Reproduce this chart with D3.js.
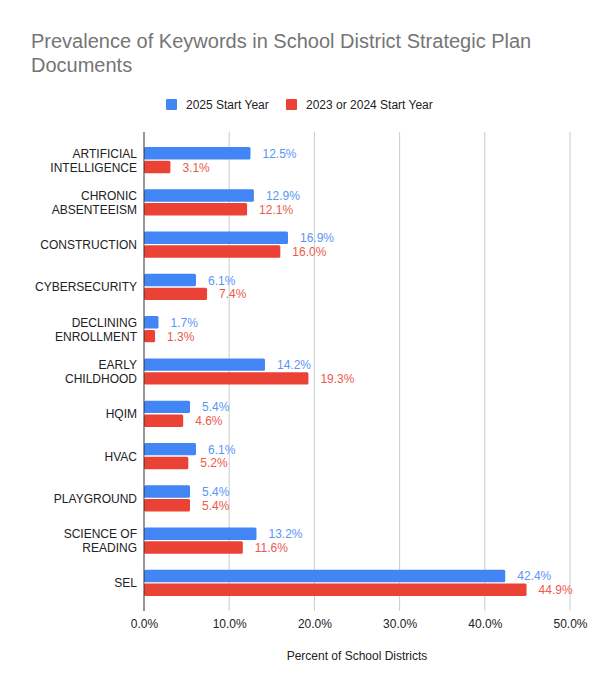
<!DOCTYPE html>
<html>
<head>
<meta charset="utf-8">
<script src="https://cdn.jsdelivr.net/npm/d3@7"></script>
<style>
  body { margin: 0; background: #fff; }
  text { font-family: "Liberation Sans", Arial, sans-serif; }
</style>
</head>
<body>
<svg id="chart" width="600" height="693"></svg>
<script>
// chart data
const categories = [
    ["ARTIFICIAL", "INTELLIGENCE"],
    ["CHRONIC", "ABSENTEEISM"],
    ["CONSTRUCTION"],
    ["CYBERSECURITY"],
    ["DECLINING", "ENROLLMENT"],
    ["EARLY", "CHILDHOOD"],
    ["HQIM"],
    ["HVAC"],
    ["PLAYGROUND"],
    ["SCIENCE OF", "READING"],
    ["SEL"]
];
const seriesNames = ["2025 Start Year", "2023 or 2024 Start Year"];
const values2025 = [12.5, 12.9, 16.9, 6.1, 1.7, 14.2, 5.4, 6.1, 5.4, 13.2, 42.4];
const values2023 = [3.1, 12.1, 16.0, 7.4, 1.3, 19.3, 4.6, 5.2, 5.4, 11.6, 44.9];
const xTicks = [0, 10, 20, 30, 40, 50];
const colors = ["#4285f4", "#ea4335"];
const labelColors = ["#5b95f5", "#ec5a4e"];

let svg = d3.select("#chart");

// title
let title = svg.append("text")
    .attr("x", 31)
    .attr("y", 48)
    .attr("font-size", "20px")
    .attr("fill", "#757575");
["Prevalence of Keywords in School District Strategic Plan", "Documents"].forEach((line, i) => {
    title.append("tspan").attr("x", 31).attr("dy", i === 0 ? 0 : 24).text(line);
});

// legend
const legendX = [166, 286];
seriesNames.forEach((name, i) => {
    svg.append("rect")
        .attr("x", legendX[i]).attr("y", 99)
        .attr("width", 11).attr("height", 11)
        .attr("rx", 1)
        .attr("fill", colors[i]);
    svg.append("text")
        .attr("x", legendX[i] + 20).attr("y", 109)
        .attr("font-size", "12px")
        .attr("fill", "#222")
        .text(name);
});

// scales
const x = d3.scaleLinear().domain([0, 50]).range([144, 570]);
const y = d3.scaleBand()
    .domain(d3.range(categories.length))
    .range([139, 604])
    .paddingInner(0.38)
    .paddingOuter(0.19);
const inner = d3.scaleBand().domain([0, 1]).range([0, y.bandwidth()]).paddingInner(0.1);

// gridlines
svg.append("g")
    .selectAll("line")
    .data(xTicks.slice(1))
    .join("line")
    .attr("x1", d => x(d)).attr("x2", d => x(d))
    .attr("y1", 132).attr("y2", 611)
    .attr("stroke", "#cccccc")
    .attr("stroke-width", 1);

// bars
const rows = categories.map((c, i) => ({ i: i, vals: [values2025[i], values2023[i]] }));
let groups = svg.append("g")
    .selectAll("g")
    .data(rows)
    .join("g")
    .attr("transform", d => "translate(0," + y(d.i) + ")");

groups.selectAll("rect")
    .data(d => d.vals.map((v, s) => ({ v: v, s: s })))
    .join("rect")
    .attr("x", x(0))
    .attr("y", d => inner(d.s))
    .attr("width", d => x(d.v) - x(0))
    .attr("height", inner.bandwidth())
    .attr("rx", 1.5)
    .attr("fill", d => colors[d.s]);

groups.selectAll("text.val")
    .data(d => d.vals.map((v, s) => ({ v: v, s: s })))
    .join("text")
    .attr("class", "val")
    .attr("x", d => x(d.v) + 12)
    .attr("y", d => inner(d.s) + inner.bandwidth() / 2 + 4.5)
    .attr("font-size", "12px")
    .attr("fill", d => labelColors[d.s])
    .text(d => d.v.toFixed(1) + "%");

// category labels
categories.forEach((lines, i) => {
    let cy = y(i) + y.bandwidth() / 2;
    let t = svg.append("text")
        .attr("text-anchor", "end")
        .attr("font-size", "12px")
        .attr("fill", "#222");
    let start = cy + 4.5 - (lines.length - 1) * 7;
    lines.forEach((line, k) => {
        t.append("tspan").attr("x", 137).attr("y", start + k * 14).text(line);
    });
});

// axis line
svg.append("line")
    .attr("x1", x(0)).attr("x2", x(0))
    .attr("y1", 132).attr("y2", 611)
    .attr("stroke", "#333")
    .attr("stroke-width", 1);

// x axis tick labels
let xAxis = svg.append("g")
    .attr("transform", "translate(0,611)")
    .call(d3.axisBottom(x).tickValues(xTicks).tickSize(0).tickPadding(8)
        .tickFormat(d => d.toFixed(1) + "%"));
xAxis.select(".domain").remove();
xAxis.selectAll("text")
    .attr("font-size", "12px")
    .attr("font-family", "'Liberation Sans', Arial, sans-serif")
    .attr("fill", "#222");

// axis title
svg.append("text")
    .attr("x", 357)
    .attr("y", 660)
    .attr("text-anchor", "middle")
    .attr("font-size", "12px")
    .attr("fill", "#222")
    .text("Percent of School Districts");
</script>
</body>
</html>
